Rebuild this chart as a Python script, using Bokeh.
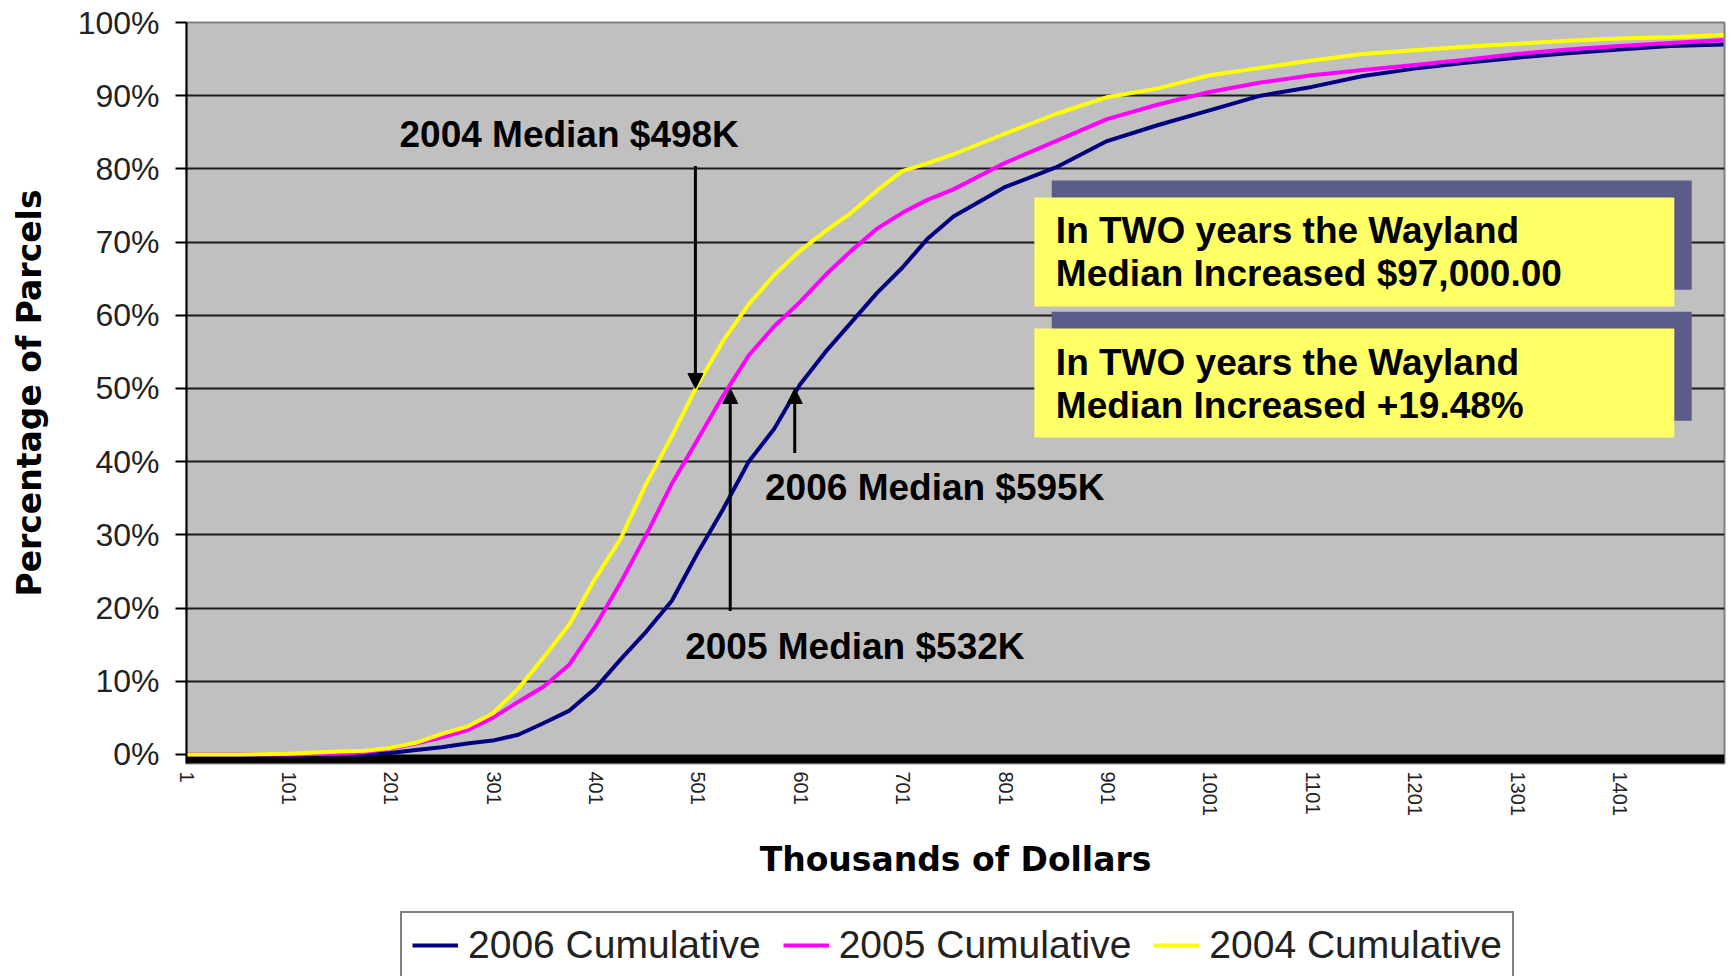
import math
from bokeh.plotting import figure
from bokeh.layouts import column
from bokeh.models import (Range1d, FixedTicker, Legend, LegendItem, Arrow, NormalHead,
                          Label, BoxAnnotation)
from bokeh.embed import file_html
from bokeh.resources import INLINE

# ---------------- data ----------------
thousands = [1, 50, 100, 150, 175, 200, 225, 250, 275, 300, 325, 350, 375, 400, 425, 450,
             475, 500, 525, 550, 575, 600, 625, 650, 675, 700, 725, 750, 800, 850, 900,
             950, 1000, 1050, 1100, 1150, 1200, 1250, 1300, 1350, 1400, 1450, 1502]

cum_2006 = [0, 0, 0, 0, 0, 0.2, 0.6, 1.0, 1.5, 1.9, 2.7, 4.3, 6.0, 9.0, 13.0, 16.8,
            21.0, 27.5, 33.5, 40.0, 44.5, 50.5, 55.0, 59.0, 63.0, 66.5, 70.5, 73.5, 77.5,
            80.2, 83.8, 86.0, 88.0, 90.0, 91.2, 92.7, 93.7, 94.5, 95.2, 95.8, 96.3, 96.8, 97.0]

cum_2005 = [0, 0, 0, 0.1, 0.3, 0.8, 1.5, 2.3, 3.3, 5.0, 7.2, 9.3, 12.3, 17.5, 23.5, 30.0,
            37.0, 43.0, 49.0, 54.5, 58.5, 61.8, 65.5, 68.8, 71.8, 74.0, 75.8, 77.2, 80.8,
            83.8, 86.8, 88.8, 90.5, 91.8, 92.8, 93.5, 94.2, 94.9, 95.7, 96.3, 96.8, 97.2, 97.6]

cum_2004 = [0, 0, 0.1, 0.4, 0.5, 0.9, 1.6, 2.8, 3.8, 5.6, 9.0, 13.3, 17.8, 24.0, 29.5, 37.0,
            43.5, 50.5, 56.5, 61.5, 65.5, 68.8, 71.5, 74.0, 77.0, 79.7, 80.8, 82.0, 84.8,
            87.5, 89.8, 91.0, 92.8, 93.8, 94.8, 95.7, 96.2, 96.7, 97.1, 97.5, 97.8, 98.0, 98.3]

series_names = ["2006 Cumulative", "2005 Cumulative", "2004 Cumulative"]
series_colors = ["#000080", "#FF00FF", "#FFFF00"]

x_ticks = [1, 101, 201, 301, 401, 501, 601, 701, 801, 901, 1001, 1101, 1201, 1301, 1401]
x_tick_labels = [str(t) for t in x_ticks]
y_ticks = [0, 10, 20, 30, 40, 50, 60, 70, 80, 90, 100]
y_tick_labels = [f"{t}%" for t in y_ticks]

median_years = ["2004", "2005", "2006"]
median_values = [498, 532, 595]
median_labels = ["2004 Median $498K", "2005 Median $532K", "2006 Median $595K"]

box_lines = [["In TWO years the Wayland", "Median Increased $97,000.00"],
             ["In TWO years the Wayland", "Median Increased +19.48%"]]

# ---------------- main figure ----------------
FONT = "Liberation Sans"
p = figure(width=1730, height=900,
           x_range=Range1d(1, 1503), y_range=Range1d(-1.23, 100),
           output_backend="svg", toolbar_location=None,
           min_border_left=186, min_border_right=6, min_border_top=22, min_border_bottom=137,
           background_fill_color="#C0C0C0", border_fill_color="white",
           outline_line_color="#808080", outline_line_width=2)

# axes
p.yaxis.ticker = FixedTicker(ticks=y_ticks)
p.yaxis.major_label_overrides = dict(zip(y_ticks, y_tick_labels))
p.yaxis.axis_line_color = "black"
p.yaxis.axis_line_width = 2
p.yaxis.major_tick_out = 11
p.yaxis.major_tick_in = 0
p.yaxis.major_tick_line_width = 2
p.yaxis.minor_tick_line_color = None
p.yaxis.major_label_text_font = FONT
p.yaxis.major_label_text_font_size = "32px"
p.yaxis.major_label_text_color = "#222222"
p.yaxis.major_label_standoff = 16
p.yaxis.axis_label = "Percentage of Parcels"
p.yaxis.axis_label_text_font = "DejaVu Sans"
p.yaxis.axis_label_text_font_style = "bold"
p.yaxis.axis_label_text_font_size = "33px"
p.yaxis.axis_label_text_color = "black"
p.yaxis.axis_label_standoff = 26

p.xaxis.ticker = FixedTicker(ticks=x_ticks)
p.xaxis.major_label_overrides = dict(zip(x_ticks, x_tick_labels))
p.xaxis.major_label_orientation = -math.pi / 2
p.xaxis.axis_line_color = None
p.xaxis.major_tick_line_color = None
p.xaxis.minor_tick_line_color = None
p.xaxis.major_tick_out = 0
p.xaxis.major_label_standoff = 8
p.xaxis.major_label_text_font = FONT
p.xaxis.major_label_text_font_size = "20px"
p.xaxis.major_label_text_color = "#222222"
p.xaxis.axis_label = "Thousands of Dollars"
p.xaxis.axis_label_text_font = "DejaVu Sans"
p.xaxis.axis_label_text_font_style = "bold"
p.xaxis.axis_label_text_font_size = "33px"
p.xaxis.axis_label_text_color = "black"
p.xaxis.axis_label_standoff = 21

p.xgrid.grid_line_color = None
p.ygrid.ticker = FixedTicker(ticks=y_ticks[1:-1])
p.ygrid.grid_line_color = "#1a1a1a"
p.ygrid.grid_line_width = 2

# thick black base band below 0%
p.add_layout(BoxAnnotation(top=y_ticks[0], fill_color="black", fill_alpha=1,
                           line_alpha=0, level="underlay"))

# curves (2004 drawn last, on top)
renderers = []
for ys, col in zip([cum_2006, cum_2005, cum_2004], series_colors):
    r = p.line(thousands, ys, line_color=col, line_width=4)
    renderers.append(r)

# shaded call-out boxes
box_x = (846, 1471)
box_offset_x = -17
box_offset_y = -2.3
shadow_tops = [78.4, 60.5]
box_height = 14.9
for top in shadow_tops:
    p.add_layout(BoxAnnotation(left=box_x[0], right=box_x[1], top=top, bottom=top - box_height,
                               fill_color="#5B5B8A", fill_alpha=1, line_alpha=0))
    p.add_layout(BoxAnnotation(left=box_x[0] + box_offset_x, right=box_x[1] + box_offset_x,
                               top=top + box_offset_y, bottom=top + box_offset_y - box_height,
                               fill_color="#FFFF66", fill_alpha=1, line_alpha=0))

line_ys = [[71.6, 65.7], [53.6, 47.7]]
for lines, ys in zip(box_lines, line_ys):
    for t, yy in zip(lines, ys):
        p.add_layout(Label(x=850, y=yy, text=t, text_font=FONT, text_font_style="bold",
                           text_font_size="37px", text_color="black", text_baseline="middle"))

# median arrows
arrow_starts = [80.4, 19.6, 41.2]
for xm, ys0 in zip(median_values, arrow_starts):
    p.add_layout(Arrow(end=NormalHead(size=15, fill_color="black", line_color="black"),
                       x_start=xm, y_start=ys0, x_end=xm, y_end=50,
                       line_color="black", line_width=3))

label_pos = [(209, 84.75), (488, 14.75), (566, 36.5)]
for txt, (lx, ly) in zip(median_labels, label_pos):
    p.add_layout(Label(x=lx, y=ly, text=txt, text_font=FONT, text_font_style="bold",
                       text_font_size="37px", text_color="black", text_baseline="middle"))

# ---------------- legend strip ----------------
lg = figure(width=1730, height=76, output_backend="svg", toolbar_location=None,
            x_range=Range1d(0, 1), y_range=Range1d(0, 1),
            min_border_left=0, min_border_right=0, min_border_top=0, min_border_bottom=0,
            outline_line_color=None, background_fill_color="white", border_fill_color="white")
lg.axis.visible = False
lg.grid.visible = False
nan_vals = [float("nan")] * len(thousands)
swatches = [lg.line(thousands, nan_vals, line_color=c, line_width=4) for c in series_colors]
legend = Legend(items=[LegendItem(label=n, renderers=[r]) for n, r in zip(series_names, swatches)],
                orientation="horizontal", location=(214, -3),
                label_text_font=FONT, label_text_font_size="39px", label_text_color="#222222",
                glyph_width=46, glyph_height=24, label_standoff=10, spacing=22, padding=10,
                border_line_color="black", border_line_width=2,
                background_fill_color="white", background_fill_alpha=1, margin=0)
lg.add_layout(legend)

open("out.html", "w").write(file_html(column(p, lg, spacing=0), INLINE))
